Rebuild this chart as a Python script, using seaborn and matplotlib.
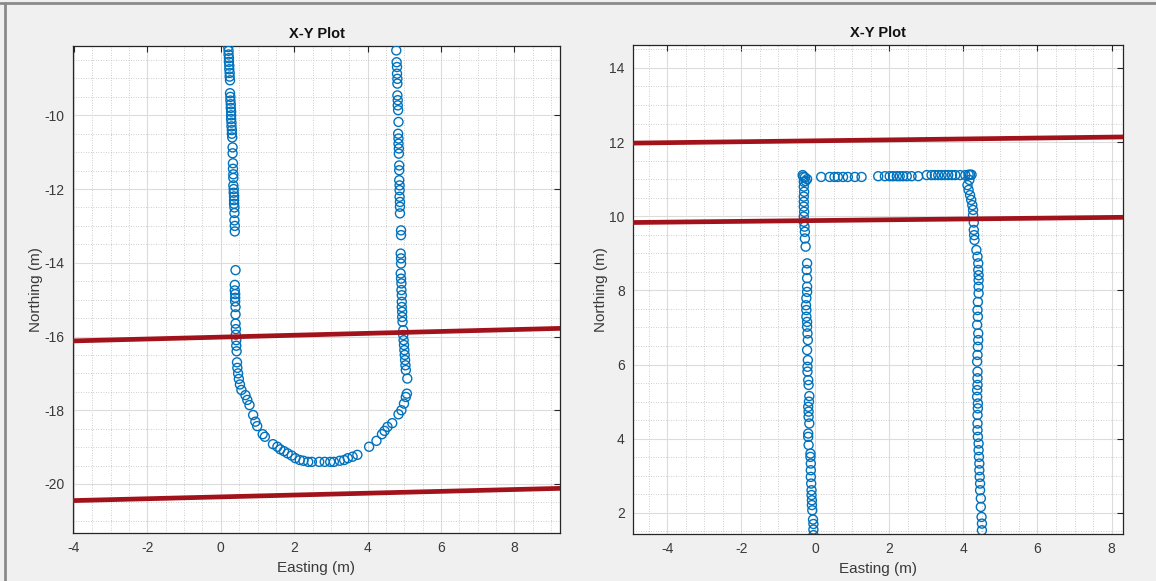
import numpy as np
import pandas as pd
import matplotlib
matplotlib.use("Agg")
import matplotlib.pyplot as plt
from matplotlib.ticker import MultipleLocator
from matplotlib.lines import Line2D
import seaborn as sns

# run 1 (U-turn)
run1_x = [0.20, 0.21, 0.21, 0.22, 0.22, 0.23, 0.23, 0.24, 0.24, 0.25,
          0.25, 0.26, 0.26, 0.27, 0.27, 0.28, 0.28, 0.28, 0.29, 0.29, 0.30, 0.30, 0.31,
          0.32, 0.32, 0.33, 0.33, 0.34, 0.34,
          0.34, 0.35, 0.35, 0.36, 0.36, 0.36, 0.37, 0.37, 0.37, 0.38, 0.38,
          0.40, 0.38, 0.38, 0.39, 0.39, 0.39, 0.40, 0.40,
          0.40, 0.41, 0.41, 0.42, 0.42, 0.43, 0.44, 0.45, 0.47, 0.49, 0.52, 0.56,
          0.67, 0.72, 0.78, 0.88, 0.94, 0.99, 1.14, 1.20, 1.42, 1.54, 1.62, 1.72,
          1.82, 1.93, 2.03, 2.15, 2.25, 2.38, 2.48, 2.68, 2.83, 2.98, 3.08, 3.24,
          3.36, 3.46, 3.59, 3.72, 4.04, 4.24, 4.39, 4.46, 4.54, 4.67, 4.84, 4.92,
          4.99, 5.04, 5.07,
          5.08, 5.04, 5.03, 5.02, 5.01, 5.00, 4.99, 4.98, 4.97, 4.97, 4.95, 4.94,
          4.94, 4.93, 4.93, 4.93, 4.92, 4.92, 4.91, 4.90, 4.91, 4.91, 4.90, 4.91,
          4.91, 4.88, 4.88, 4.88, 4.87, 4.87, 4.87, 4.86, 4.86, 4.86, 4.85, 4.85,
          4.84, 4.84, 4.83, 4.84, 4.83, 4.82, 4.82, 4.81, 4.81, 4.81, 4.80, 4.80,
          4.79, 4.78]
run1_y = [-8.15, -8.25, -8.35, -8.45, -8.55, -8.65, -8.75, -8.85, -8.95, -9.05,
          -9.40, -9.50, -9.60, -9.70, -9.80, -9.90, -10.00, -10.10, -10.20, -10.30, -10.40, -10.50, -10.60,
          -10.87, -11.03, -11.30, -11.45, -11.60, -11.70,
          -11.90, -12.00, -12.10, -12.20, -12.30, -12.40, -12.50, -12.65, -12.85, -13.00, -13.15,
          -14.20, -14.60, -14.75, -14.85, -14.95, -15.05, -15.20, -15.40,
          -15.65, -15.80, -15.95, -16.10, -16.25, -16.40, -16.70, -16.85, -17.00, -17.15, -17.30, -17.45,
          -17.59, -17.72, -17.86, -18.13, -18.31, -18.43, -18.65, -18.72, -18.92, -18.99, -19.06, -19.11,
          -19.17, -19.23, -19.30, -19.35, -19.37, -19.40, -19.40, -19.40, -19.40, -19.40, -19.40, -19.37,
          -19.35, -19.30, -19.26, -19.21, -18.99, -18.83, -18.65, -18.56, -18.45, -18.35, -18.11, -18.00,
          -17.82, -17.64, -17.55,
          -17.14, -16.91, -16.78, -16.64, -16.50, -16.37, -16.23, -16.10, -15.96, -15.83, -15.60, -15.47,
          -15.33, -15.20, -15.06, -14.88, -14.74, -14.56, -14.43, -14.29, -14.02, -13.88, -13.75, -13.25,
          -13.12, -12.66, -12.48, -12.35, -12.21, -12.03, -11.90, -11.76, -11.49, -11.36, -11.04, -10.90,
          -10.77, -10.63, -10.50, -10.18, -9.86, -9.73, -9.59, -9.46, -9.14, -9.01, -8.87, -8.69,
          -8.56, -8.24]

# run 2 (box path)
run2_x = [-0.05, -0.05, -0.05, -0.06, -0.08, -0.09, -0.09, -0.10, -0.10, -0.11,
          -0.12, -0.12, -0.12, -0.13, -0.13, -0.18, -0.19, -0.19, -0.16, -0.18,
          -0.18, -0.19, -0.17, -0.16, -0.18, -0.19, -0.21, -0.21, -0.20, -0.22,
          -0.20, -0.21, -0.22, -0.22, -0.24, -0.24, -0.25, -0.24, -0.22, -0.22,
          -0.22, -0.23, -0.22, -0.26, -0.28, -0.28, -0.29, -0.31, -0.31, -0.30,
          -0.31, -0.31, -0.31, -0.30, -0.31, -0.31, -0.32, -0.34, -0.28, -0.22, -0.26,
          0.16, 0.39, 0.52, 0.61, 0.75, 0.88, 1.07, 1.25,
          1.70, 1.88, 2.01, 2.10, 2.20, 2.28, 2.37, 2.47, 2.60, 2.78,
          3.01, 3.14, 3.23, 3.32, 3.41, 3.50, 3.59, 3.69, 3.78, 3.91, 4.05, 4.14, 4.18,
          4.22, 4.16, 4.11, 4.14, 4.18, 4.21, 4.24, 4.26, 4.26, 4.28, 4.28, 4.29,
          4.30, 4.35, 4.38, 4.40, 4.40, 4.41, 4.41, 4.41, 4.41, 4.39, 4.38, 4.39,
          4.37, 4.40, 4.40, 4.39, 4.38, 4.37, 4.38, 4.38, 4.38, 4.37, 4.37, 4.39,
          4.39, 4.38, 4.38, 4.38, 4.39, 4.41, 4.41, 4.42, 4.43, 4.43, 4.44, 4.45,
          4.45, 4.47, 4.47, 4.49, 4.50, 4.50]
run2_y = [1.40, 1.55, 1.70, 1.82, 2.07, 2.21, 2.34, 2.48, 2.61, 2.79,
          2.97, 3.15, 3.33, 3.51, 3.60, 3.83, 4.05, 4.14, 4.41, 4.59,
          4.73, 4.86, 5.00, 5.15, 5.45, 5.58, 5.81, 5.94, 6.12, 6.39,
          6.66, 6.84, 7.02, 7.15, 7.29, 7.47, 7.60, 7.79, 7.96, 8.10,
          8.33, 8.55, 8.73, 9.18, 9.40, 9.58, 9.72, 9.85, 9.99, 10.12,
          10.26, 10.39, 10.53, 10.66, 10.80, 10.93, 11.07, 11.11, 11.05, 11.00, 10.95,
          11.06, 11.06, 11.06, 11.06, 11.06, 11.06, 11.06, 11.06,
          11.08, 11.08, 11.08, 11.08, 11.08, 11.08, 11.08, 11.08, 11.08, 11.08,
          11.11, 11.11, 11.11, 11.11, 11.11, 11.11, 11.11, 11.11, 11.11, 11.11, 11.11, 11.12, 11.12,
          11.12, 10.98, 10.84, 10.71, 10.57, 10.44, 10.30, 10.17, 10.03, 9.83, 9.63, 9.49,
          9.36, 9.09, 8.91, 8.73, 8.55, 8.41, 8.28, 8.10, 7.92, 7.69, 7.47, 7.29,
          7.07, 6.84, 6.66, 6.48, 6.26, 6.08, 5.81, 5.63, 5.45, 5.31, 5.13, 4.95,
          4.82, 4.64, 4.41, 4.23, 4.05, 3.87, 3.69, 3.51, 3.33, 3.15, 2.97, 2.79,
          2.61, 2.39, 2.16, 1.89, 1.71, 1.53]

# lane boundary lines (two end points each)
run1_lane_x = [-6.0, 10.0]
run1_lane_a = [-16.17, -15.76]
run1_lane_b = [-20.50, -20.10]
run2_lane_x = [-6.0, 10.0]
run2_lane_a = [11.96, 12.16]
run2_lane_b = [9.82, 9.99]

panels = [
    dict(x=run1_x, y=run1_y, lx=run1_lane_x, la=run1_lane_a, lb=run1_lane_b,
         xlim=(-4.03, 9.24), ylim=(-21.33, -8.12),
         yticks=np.arange(-20, -9, 2), rect=[0.0631, 0.0826, 0.4213, 0.8382]),
    dict(x=run2_x, y=run2_y, lx=run2_lane_x, la=run2_lane_a, lb=run2_lane_b,
         xlim=(-4.92, 8.31), ylim=(1.43, 14.62),
         yticks=np.arange(2, 15, 2), rect=[0.5476, 0.0809, 0.4239, 0.8417]),
]

sns.set_theme(style="whitegrid")
plt.rcParams['font.family'] = ['Liberation Sans', 'DejaVu Sans']
plt.rcParams['axes.unicode_minus'] = False
txt = '#3a3a3a'
blue = '#0072BD'
red = '#A2121A'

fig = plt.figure(figsize=(11.56, 5.81), dpi=100)
fig.patch.set_facecolor('#f0f0f0')

for p in panels:
    ax = fig.add_axes(p['rect'])
    ax.set_facecolor('white')
    df = pd.DataFrame({'Easting': p['x'], 'Northing': p['y']})
    sns.scatterplot(data=df, x='Easting', y='Northing', ax=ax, marker='o',
                    s=42, facecolors='none', edgecolor=blue, linewidth=1.0, zorder=3)
    for ly in (p['la'], p['lb']):
        sns.lineplot(x=p['lx'], y=ly, ax=ax, color=red, linewidth=3.4,
                     estimator=None, sort=False, zorder=4)
    ax.set_xlim(p['xlim'])
    ax.set_ylim(p['ylim'])
    ax.set_xticks(np.arange(-4, 9, 2))
    ax.set_yticks(p['yticks'])
    ax.xaxis.set_minor_locator(MultipleLocator(0.5))
    ax.yaxis.set_minor_locator(MultipleLocator(0.5))
    ax.grid(which='major', color='#dcdcdc', linewidth=0.8, linestyle='-')
    ax.grid(which='minor', color='#bdbdbd', linewidth=0.6, linestyle=(0, (1, 2)))
    ax.set_axisbelow(True)
    ax.tick_params(which='major', direction='in', length=4, width=0.8, color='#262626',
                   top=True, right=True, labelsize=10, labelcolor=txt, pad=6)
    ax.tick_params(which='minor', length=0)
    for s in ax.spines.values():
        s.set_color('#262626')
        s.set_linewidth(0.9)
    ax.set_title('X-Y Plot', fontsize=10.5, fontweight='bold', color='#111111', pad=6)
    ax.set_xlabel('Easting (m)', fontsize=11, color=txt, labelpad=4)
    ax.set_ylabel('Northing (m)', fontsize=11, color=txt, labelpad=1)

# window frame edges
fig.add_artist(Line2D([0, 1], [1 - 3 / 581, 1 - 3 / 581], transform=fig.transFigure,
                      color='#8a8a8a', linewidth=2))
fig.add_artist(Line2D([5 / 1156, 5 / 1156], [0, 1 - 3 / 581], transform=fig.transFigure,
                      color='#8a8a8a', linewidth=2))

fig.savefig('out.png', dpi=100, facecolor=fig.get_facecolor())
